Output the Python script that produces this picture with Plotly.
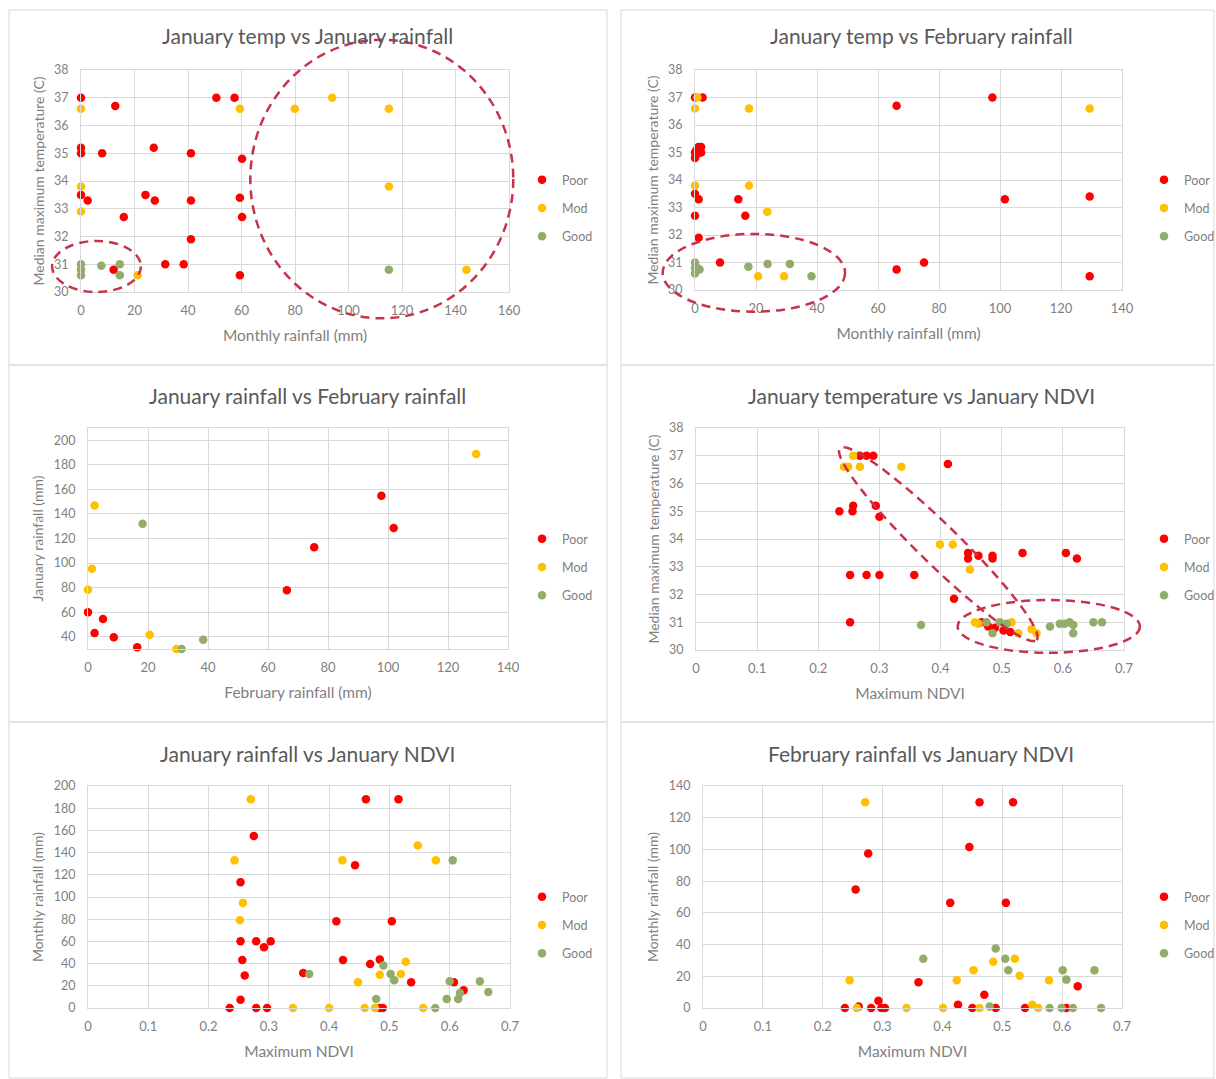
import math
import plotly.graph_objects as go

W, H = 1216, 1079
FONT = "Lato"

# ---------------- data ----------------
titles = ["January temp vs January rainfall", "January temp vs February rainfall",
          "January rainfall vs February rainfall", "January temperature vs January NDVI",
          "January rainfall vs January NDVI", "February rainfall vs January NDVI"]
x_titles = ["Monthly rainfall (mm)", "Monthly rainfall (mm)", "February rainfall (mm)",
            "Maximum NDVI", "Maximum NDVI", "Maximum NDVI"]
y_titles = ["Median maximum temperature (C)", "Median maximum temperature (C)",
            "January rainfall (mm)", "Median maximum temperature (C)",
            "Monthly rainfall (mm)", "Monthly rainfall (mm)"]
categories = ["Poor", "Mod", "Good"]

# Panel 1: January temp vs January rainfall
p1_poor_x = [0, 12.8, 0, 0, 7.9, 27.2, 41.1, 50.6, 57.4, 60.2, 0, 2.5, 24.1, 27.6, 41.1, 59.4, 16, 60.2, 41.1, 31.5, 38.4, 59.4, 12.2]
p1_poor_y = [37.0, 36.7, 35.2, 35.0, 35.0, 35.2, 35.0, 37.0, 37.0, 34.8, 33.5, 33.3, 33.5, 33.3, 33.3, 33.4, 32.7, 32.7, 31.9, 31.0, 31.0, 30.6, 30.8]
p1_mod_x = [0, 59.4, 79.9, 93.9, 115.1, 115.1, 0, 0, 144.1, 21.2]
p1_mod_y = [36.6, 36.6, 36.6, 37.0, 36.6, 33.8, 33.8, 32.9, 30.8, 30.6]
p1_good_x = [0, 0, 0, 7.6, 14.5, 14.5, 115.1]
p1_good_y = [31.0, 30.8, 30.6, 30.95, 31.0, 30.6, 30.8]

# Panel 2: January temp vs February rainfall
p2_poor_x = [0, 2.5, 97.5, 66.1, 0, 0, 0.5, 1.1, 1.4, 2.0, 2.0, 0.3, 0, 1.2, 14.2, 16.5, 0, 1.2, 8.2, 75.1, 66.1, 101.6, 129.4, 129.4]
p2_poor_y = [37.0, 37.0, 37.0, 36.7, 34.8, 35.0, 35.1, 35.2, 35.0, 35.2, 35.0, 34.9, 33.5, 33.3, 33.3, 32.7, 32.7, 31.9, 31.0, 31.0, 30.75, 33.3, 33.4, 30.5]
p2_mod_x = [0, 0.8, 17.7, 129.4, 0, 17.7, 23.7, 20.7, 29.2]
p2_mod_y = [36.6, 37.0, 36.6, 36.6, 33.8, 33.8, 32.85, 30.5, 30.5]
p2_good_x = [0, 0, 0, 0.8, 1.5, 17.5, 23.8, 31.1, 38.2]
p2_good_y = [31.0, 30.8, 30.6, 30.8, 30.75, 30.85, 30.95, 30.95, 30.5]

# Panel 3: January rainfall vs February rainfall
p3_poor_x = [0, 2.2, 5.0, 8.6, 16.4, 66.3, 75.4, 97.8, 101.9]
p3_poor_y = [60, 43, 54.4, 39.5, 31.4, 77.8, 112.8, 154.9, 128.6]
p3_mod_x = [2.2, 1.3, 0, 20.6, 29.5, 129.4]
p3_mod_y = [146.8, 95.4, 78.3, 41.7, 30, 188.8]
p3_good_x = [18.2, 31.2, 38.4]
p3_good_y = [132.1, 30, 37.6]

# Panel 4: January temperature vs January NDVI
p4_poor_x = [0.2345, 0.256, 0.257, 0.252, 0.279, 0.300, 0.252, 0.268, 0.279, 0.290, 0.294, 0.300, 0.357, 0.412, 0.422, 0.445, 0.445, 0.462, 0.485, 0.485, 0.534, 0.605, 0.623, 0.467, 0.478, 0.489, 0.503, 0.514]
p4_poor_y = [35.0, 35.0, 35.2, 32.7, 32.7, 32.7, 31.0, 37.0, 37.0, 37.0, 35.2, 34.8, 32.7, 36.7, 31.85, 33.5, 33.3, 33.4, 33.4, 33.3, 33.5, 33.5, 33.3, 31.0, 30.85, 30.8, 30.7, 30.65]
p4_mod_x = [0.242, 0.249, 0.257, 0.268, 0.336, 0.399, 0.420, 0.448, 0.516, 0.527, 0.549, 0.456, 0.462, 0.557]
p4_mod_y = [36.6, 36.6, 37.0, 36.6, 36.6, 33.8, 33.8, 32.9, 31.0, 30.6, 30.75, 31.0, 30.95, 30.6]
p4_good_x = [0.368, 0.475, 0.485, 0.497, 0.508, 0.579, 0.595, 0.603, 0.611, 0.617, 0.617, 0.650, 0.664]
p4_good_y = [30.9, 31.0, 30.6, 31.0, 30.95, 30.85, 30.95, 30.95, 31.0, 30.9, 30.6, 31.0, 31.0]

# Panel 5: January rainfall vs January NDVI
p5_poor_x = [0.235, 0.253, 0.260, 0.256, 0.253, 0.253, 0.275, 0.279, 0.292, 0.303, 0.279, 0.297, 0.357, 0.412, 0.423, 0.443, 0.461, 0.468, 0.484, 0.484, 0.489, 0.504, 0.515, 0.536, 0.607, 0.623]
p5_poor_y = [0, 7.5, 29.3, 43.2, 60.2, 113.4, 154.9, 60.2, 54.7, 60.2, 0, 0, 31.6, 78.2, 43.2, 128.6, 188, 39.7, 43.6, 0, 0, 78.2, 188, 23.2, 23.2, 15.9]
p5_mod_x = [0.270, 0.243, 0.257, 0.252, 0.340, 0.400, 0.422, 0.448, 0.459, 0.476, 0.484, 0.519, 0.527, 0.547, 0.556, 0.577]
p5_mod_y = [188, 133, 94.7, 79.1, 0, 0, 133, 23.2, 0, 0, 30, 30.7, 41.6, 146.5, 0, 133]
p5_good_x = [0.367, 0.478, 0.490, 0.502, 0.508, 0.576, 0.595, 0.600, 0.605, 0.614, 0.617, 0.650, 0.664]
p5_good_y = [30.7, 8.1, 38.2, 30.7, 25, 0, 8.1, 24, 133, 8.1, 13.5, 24, 14.4]

# Panel 6: February rainfall vs January NDVI
p6_poor_x = [0.237, 0.255, 0.276, 0.260, 0.281, 0.293, 0.298, 0.304, 0.360, 0.413, 0.426, 0.445, 0.450, 0.462, 0.470, 0.489, 0.506, 0.518, 0.538, 0.607, 0.626]
p6_poor_y = [0, 74.7, 97.5, 1, 0, 4.6, 0, 0, 16.2, 66.3, 2.1, 101.5, 0, 129.7, 8.4, 0, 66.3, 129.7, 0, 0, 13.7]
p6_mod_x = [0.245, 0.257, 0.271, 0.340, 0.401, 0.424, 0.452, 0.462, 0.485, 0.521, 0.529, 0.550, 0.560, 0.578]
p6_mod_y = [17.5, 0, 129.7, 0, 0, 17.5, 23.8, 0, 29.1, 31, 20.4, 2.1, 0, 17.5]
p6_good_x = [0.368, 0.479, 0.489, 0.505, 0.510, 0.579, 0.599, 0.601, 0.607, 0.618, 0.654, 0.665]
p6_good_y = [31, 1, 37.5, 31, 23.8, 0, 0, 23.8, 17.9, 0, 23.8, 0]

# axis ranges and tick steps
x_ranges = [[0, 160], [0, 140], [0, 140], [0, 0.7], [0, 0.7], [0, 0.7]]
x_dticks = [20, 20, 20, 0.1, 0.1, 0.1]
y_ranges = [[30, 38], [30, 38], [30, 210], [30, 38], [0, 200], [0, 140]]
y_dticks = [1, 1, 20, 1, 20, 20]

# ---------------- styling / layout ----------------
colors = {"Poor": "#ff0000", "Mod": "#ffc000", "Good": "#92ad6a"}
TITLE_C = "#595959"
TICK_C = "#7f7f7f"
GRID_C = "#d9d9d9"
ELL_C = "#c8324a"

# positions in window pixels: plot areas (left, right, top, bottom)
areas = [(81, 509, 70, 292), (695, 1122, 70, 290),
         (88, 508, 428, 649), (696, 1124, 428, 650),
         (88, 510, 786, 1008), (703, 1122, 786, 1008)]
frames = [(9, 607, 10, 365), (621, 1214, 10, 365),
          (9, 607, 365, 722), (621, 1214, 365, 722),
          (9, 607, 722, 1078), (621, 1214, 722, 1078)]
title_pos = [(307, 36), (921, 36), (307, 395), (921, 395), (307, 753), (921, 753)]
legend_pos = [(522, 208), (1144, 208), (522, 567), (1144, 567), (522, 925), (1144, 925)]


def px(x):
    return x / W


def py(y):
    return 1 - y / H


data = {
    1: [(p1_poor_x, p1_poor_y), (p1_mod_x, p1_mod_y), (p1_good_x, p1_good_y)],
    2: [(p2_poor_x, p2_poor_y), (p2_mod_x, p2_mod_y), (p2_good_x, p2_good_y)],
    3: [(p3_poor_x, p3_poor_y), (p3_mod_x, p3_mod_y), (p3_good_x, p3_good_y)],
    4: [(p4_poor_x, p4_poor_y), (p4_mod_x, p4_mod_y), (p4_good_x, p4_good_y)],
    5: [(p5_poor_x, p5_poor_y), (p5_mod_x, p5_mod_y), (p5_good_x, p5_good_y)],
    6: [(p6_poor_x, p6_poor_y), (p6_mod_x, p6_mod_y), (p6_good_x, p6_good_y)],
}

fig = go.Figure()
layout = dict(width=W, height=H, margin=dict(l=0, r=0, t=0, b=0, autoexpand=False),
              paper_bgcolor="white", plot_bgcolor="white",
              font=dict(family=FONT, color=TITLE_C), showlegend=True)
shapes = []
annotations = []

for i in range(1, 7):
    L, R, T, B = areas[i - 1]
    sfx = "" if i == 1 else str(i)
    xa, ya = "xaxis" + sfx, "yaxis" + sfx
    leg = "legend" + sfx
    layout[xa] = dict(domain=[px(L), px(R)], anchor="y" + sfx, range=x_ranges[i - 1],
                      dtick=x_dticks[i - 1], tick0=0, showgrid=True, gridcolor=GRID_C,
                      gridwidth=1, zeroline=False, showline=True, linecolor=GRID_C,
                      mirror=True, ticks="", automargin=False, ticklabelstandoff=6,
                      tickfont=dict(size=13, color=TICK_C, family=FONT),
                      title=dict(text=x_titles[i - 1], font=dict(size=15.5, color=TICK_C, family=FONT),
                                 standoff=13))
    layout[ya] = dict(domain=[py(B), py(T)], anchor="x" + sfx, range=y_ranges[i - 1],
                      dtick=y_dticks[i - 1], tick0=0, showgrid=True, gridcolor=GRID_C,
                      gridwidth=1, zeroline=False, showline=True, linecolor=GRID_C,
                      mirror=True, ticks="", automargin=False, ticklabelstandoff=9,
                      tickfont=dict(size=12.5, color=TICK_C, family=FONT),
                      title=dict(text=y_titles[i - 1], font=dict(size=14, color=TICK_C, family=FONT),
                                 standoff=6))
    lx, ly = legend_pos[i - 1]
    layout[leg] = dict(x=px(lx), y=py(ly), xanchor="left", yanchor="middle",
                       bgcolor="rgba(0,0,0,0)", font=dict(size=12.5, color=TICK_C, family=FONT),
                       tracegroupgap=9, traceorder="grouped", itemclick=False)
    for (xs, ys), cat in zip(data[i], categories):
        fig.add_trace(go.Scatter(x=xs, y=ys, mode="markers", name=cat,
                                 marker=dict(color=colors[cat], size=8.5, line=dict(width=0)),
                                 xaxis="x" + sfx, yaxis="y" + sfx, legend=leg,
                                 legendgroup=f"{i}{cat}", cliponaxis=False, hoverinfo="x+y+name"))
    fl, fr, ft, fb = frames[i - 1]
    shapes.append(dict(type="rect", xref="paper", yref="paper", x0=px(fl), x1=px(fr),
                       y0=py(fb), y1=py(ft), line=dict(color=GRID_C, width=1),
                       fillcolor="rgba(0,0,0,0)", layer="below"))
    tx, ty = title_pos[i - 1]
    annotations.append(dict(text=titles[i - 1], x=px(tx), y=py(ty), xref="paper", yref="paper",
                            showarrow=False, xanchor="center", yanchor="middle",
                            font=dict(size=21, color=TITLE_C, family=FONT)))


def to_dom(v, rng):
    return (v - rng[0]) / (rng[1] - rng[0])


def ellipse(i, x0, x1, y0, y1):
    sfx = "" if i == 1 else str(i)
    xr, yr = x_ranges[i - 1], y_ranges[i - 1]
    return dict(type="circle", xref=f"x{sfx} domain", yref=f"y{sfx} domain",
                x0=to_dom(x0, xr), x1=to_dom(x1, xr), y0=to_dom(y0, yr), y1=to_dom(y1, yr),
                line=dict(color=ELL_C, width=2.5, dash="9px,6px"), layer="above")


def rotated_ellipse(i, pa, pb, half_width_px, n=120):
    sfx = "" if i == 1 else str(i)
    L, R, T, B = areas[i - 1]
    wpx, hpx = R - L, B - T
    xr, yr = x_ranges[i - 1], y_ranges[i - 1]
    ax, ay = to_dom(pa[0], xr) * wpx, to_dom(pa[1], yr) * hpx
    bx, by = to_dom(pb[0], xr) * wpx, to_dom(pb[1], yr) * hpx
    cx, cy = (ax + bx) / 2, (ay + by) / 2
    a = math.hypot(bx - ax, by - ay) / 2
    th = math.atan2(by - ay, bx - ax)
    pts = []
    for k in range(n + 1):
        t = 2 * math.pi * k / n
        ex, ey = a * math.cos(t), half_width_px * math.sin(t)
        qx = cx + ex * math.cos(th) - ey * math.sin(th)
        qy = cy + ex * math.sin(th) + ey * math.cos(th)
        pts.append((qx / wpx, qy / hpx))
    path = "M " + " L ".join(f"{p[0]:.5f},{p[1]:.5f}" for p in pts) + " Z"
    return dict(type="path", path=path, xref=f"x{sfx} domain", yref=f"y{sfx} domain",
                line=dict(color=ELL_C, width=2.5, dash="9px,6px"), layer="above")


shapes.append(ellipse(1, 63.3, 161.6, 29.05, 39.09))
shapes.append(ellipse(1, -10.8, 22.4, 30.0, 31.84))
shapes.append(ellipse(2, -10.6, 49.2, 29.21, 32.04))
shapes.append(ellipse(4, 0.428, 0.726, 29.9, 31.8))
shapes.append(rotated_ellipse(4, (0.2355, 37.27), (0.557, 30.36), 20))

layout["shapes"] = shapes
layout["annotations"] = annotations
fig.update_layout(**layout)
fig.write_html("out.html", config={"displayModeBar": False},
               post_script="document.body.style.margin='0';document.body.style.overflow='hidden';")
